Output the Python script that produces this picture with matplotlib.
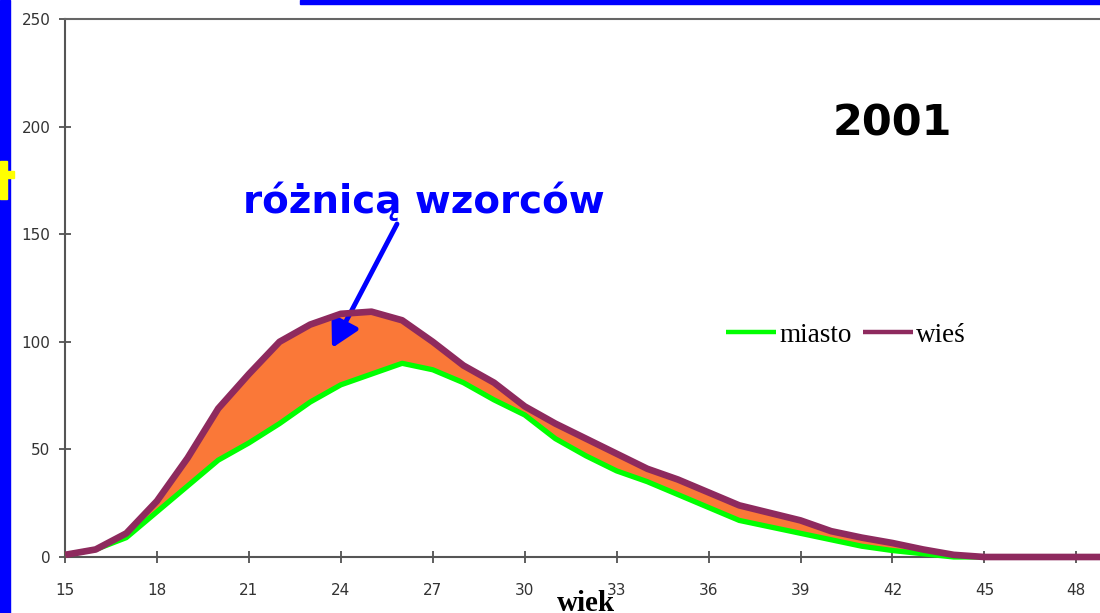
import matplotlib
matplotlib.use('Agg')
import matplotlib.pyplot as plt
from matplotlib.patches import Rectangle

# age (wiek) and fertility pattern values, 2001
ages = list(range(15, 50))
miasto = [1, 3.5, 9, 21, 33, 45, 53, 62, 72, 80, 85, 90, 87, 81, 73, 66, 55, 47, 40, 35,
          29, 23, 17, 14, 11, 8, 5, 3, 1.5, 0, 0, 0, 0, 0, 0]
wies = [1, 3.5, 11, 26, 46, 69, 85, 100, 108, 113, 114, 110, 100, 89, 81, 70, 62, 55, 48, 41,
        36, 30, 24, 20.5, 17, 12, 9, 6.5, 3.5, 1, 0, 0, 0, 0, 0]
x_ticks = list(range(15, 49, 3))
y_ticks = list(range(0, 251, 50))

W, H = 1100, 613
fig = plt.figure(figsize=(W / 100, H / 100), dpi=100)
ax = fig.add_axes([65 / W, 1 - 557 / H, (1107 - 65) / W, (557 - 19) / H])

ax.fill_between(ages, miasto, wies, where=[w >= m for w, m in zip(wies, miasto)],
                interpolate=True, color='#FA7838', lw=0, zorder=2)
ax.plot(ages, miasto, color='#00FF00', lw=3.8, label='miasto', zorder=3, clip_on=False,
        solid_capstyle='butt', solid_joinstyle='round')
ax.plot(ages, wies, color='#8E2A5E', lw=4.8, label='wieś', zorder=4, clip_on=False,
        solid_capstyle='butt', solid_joinstyle='round')

ax.set_xlim(15, 49)
ax.set_ylim(0, 250)
ax.set_xticks(x_ticks)
ax.set_yticks(y_ticks)
ax.tick_params(direction='inout', length=9, width=1.1, colors='#333333', labelsize=11)
ax.tick_params(axis='x', pad=14)
ax.tick_params(axis='y', pad=6)
for lab in ax.get_xticklabels() + ax.get_yticklabels():
    lab.set_family('DejaVu Sans')

for side in ['left', 'bottom', 'top']:
    ax.spines[side].set_color('#555555')
    ax.spines[side].set_linewidth(1.5)
ax.spines['top'].set_color('#666666')
ax.spines['right'].set_visible(False)

ax.set_xlabel('wiek', family='Liberation Serif', fontweight='bold', fontsize=21)
ax.xaxis.set_label_coords(0.5, -0.062)

leg = fig.legend(loc='center left', bbox_to_anchor=(726 / W, 1 - 335 / H), ncol=2,
                 frameon=False, borderpad=0, borderaxespad=0, handlelength=1.85,
                 handletextpad=0.12, columnspacing=0.4,
                 prop={'family': 'Liberation Serif', 'size': 19.5})
for line in leg.get_lines():
    line.set_linewidth(3.2)

fig.text(892 / W, 1 - 124 / H, '2001', ha='center', va='center', fontsize=31,
         fontweight='bold', family='DejaVu Sans', color='black')
fig.text(424 / W, 1 - 213 / H, 'różnicą wzorców', ha='center', va='baseline',
         fontsize=28, fontweight='bold', family='DejaVu Sans', color='#0000FF')
ax.annotate('', xy=(332, H - 348), xycoords='figure pixels',
            xytext=(397, H - 224), textcoords='figure pixels',
            arrowprops=dict(arrowstyle='-|>,head_length=0.55,head_width=0.3', color='#0000FF',
                            lw=3.5, mutation_scale=30, shrinkA=0, shrinkB=0))

# slide decorations
fig.patches.append(Rectangle((0, 0), 10 / W, 1, transform=fig.transFigure,
                             color='#0000FF', zorder=5))
fig.patches.append(Rectangle((300 / W, 1 - 4 / H), 1, 4 / H, transform=fig.transFigure,
                             color='#0000FF', zorder=5))
fig.patches.append(Rectangle((0, 1 - 199 / H), 7 / W, 38 / H, transform=fig.transFigure,
                             color='#FFFF00', zorder=6))
fig.patches.append(Rectangle((0, 1 - 178 / H), 14 / W, 7 / H, transform=fig.transFigure,
                             color='#FFFF00', zorder=6))

fig.savefig('out.png', dpi=100)
